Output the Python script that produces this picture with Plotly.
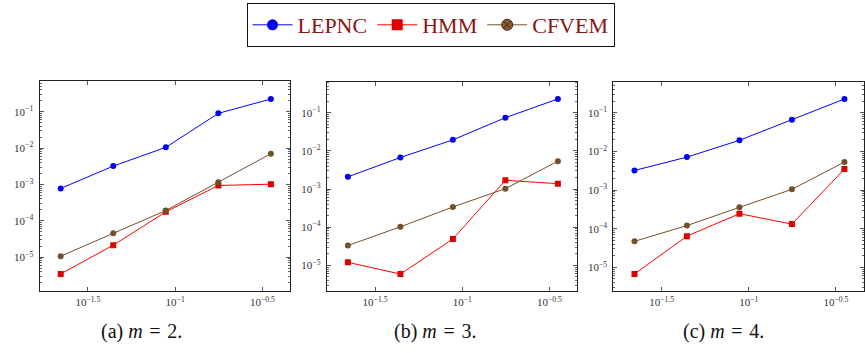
import plotly.graph_objects as go

# mesh sizes h (shared by all three cases)
h = [0.0221, 0.0442, 0.0884, 0.1768, 0.3536]

# errors for m = 2
lepnc_m2 = [7.8e-4, 3.2e-3, 1.05e-2, 9.0e-2, 0.223]
hmm_m2 = [3.5e-6, 2.15e-5, 1.77e-4, 9.4e-4, 1.02e-3]
cfvem_m2 = [1.07e-5, 4.6e-5, 1.93e-4, 1.16e-3, 7.0e-3]

# errors for m = 3
lepnc_m3 = [2.08e-3, 6.7e-3, 1.94e-2, 7.4e-2, 0.229]
hmm_m3 = [1.2e-5, 5.9e-6, 4.9e-5, 1.69e-3, 1.38e-3]
cfvem_m3 = [3.3e-5, 1.02e-4, 3.38e-4, 1.02e-3, 5.37e-3]

# errors for m = 4
lepnc_m4 = [3.2e-3, 7.1e-3, 1.93e-2, 6.57e-2, 0.226]
hmm_m4 = [6.7e-6, 6.4e-5, 2.44e-4, 1.31e-4, 3.48e-3]
cfvem_m4 = [4.7e-5, 1.2e-4, 3.56e-4, 1.04e-3, 5.28e-3]

methods = ["LEPNC", "HMM", "CFVEM"]
captions = ["(a) <i>m</i>\u2004=\u20042.", "(b) <i>m</i>\u2004=\u20043.",
            "(c) <i>m</i>\u2004=\u20044."]

x_tickvals = [10 ** -1.5, 10 ** -1, 10 ** -0.5]
x_ticktext = ["10<sup>−1.5</sup>", "10<sup>−1</sup>", "10<sup>−0.5</sup>"]
y_tickvals = [1e-5, 1e-4, 1e-3, 1e-2, 1e-1]
y_ticktext = ["10<sup>−5</sup>", "10<sup>−4</sup>", "10<sup>−3</sup>",
              "10<sup>−2</sup>", "10<sup>−1</sup>"]

W, H = 865, 353
BLUE = "#0000ff"
RED_LINE = "#ff0000"
RED_MARK = "#dd0000"
BROWN = "#73502a"
TEXT_RED = "#8b1414"
SERIF = "Liberation Serif, DejaVu Serif, serif"

panels = [
    dict(data=(lepnc_m2, hmm_m2, cfvem_m2), px=(39.5, 290.0), py=(81.0, 291.0),
         yr=(-5.926, -0.157), cap_x=141.5),
    dict(data=(lepnc_m3, hmm_m3, cfvem_m3), px=(326.7, 577.0), py=(81.7, 291.0),
         yr=(-5.673, -0.188), cap_x=435.0),
    dict(data=(lepnc_m4, hmm_m4, cfvem_m4), px=(613.3, 863.5), py=(81.7, 291.0),
         yr=(-5.613, -0.198), cap_x=723.0),
]

styles = [
    dict(line=dict(color=BLUE, width=1),
         marker=dict(symbol="circle", size=6, color=BLUE)),
    dict(line=dict(color=RED_LINE, width=1),
         marker=dict(symbol="square", size=6, color=RED_MARK)),
    dict(line=dict(color=BROWN, width=1),
         marker=dict(symbol="circle", size=6, color=BROWN)),
]

fig = go.Figure()
layout = dict(
    width=W, height=H, margin=dict(l=0, r=0, t=0, b=0),
    paper_bgcolor="white", plot_bgcolor="white",
    font=dict(family=SERIF, size=11, color="#333333"),
    showlegend=True,
)
annotations = []

for i, p in enumerate(panels):
    n = "" if i == 0 else str(i + 1)
    xa, ya = "x" + n, "y" + n
    for vals, st in zip(p["data"], styles):
        fig.add_trace(go.Scatter(
            x=h, y=vals, mode="lines+markers", xaxis=xa, yaxis=ya,
            showlegend=False, line=st["line"], marker=st["marker"]))
    axis_common = dict(
        type="log", showgrid=False, zeroline=False, showline=True,
        linecolor="#222222", linewidth=1, mirror="ticks",
        ticks="inside", ticklen=4, tickcolor="#555555", tickwidth=1,
        tickfont=dict(family=SERIF, size=11, color="#333333"),
    )
    layout["xaxis" + n] = dict(
        axis_common, domain=[p["px"][0] / W, p["px"][1] / W],
        range=[-1.777, -0.342], anchor=ya, ticklabelstandoff=1,
        tickmode="array", tickvals=x_tickvals, ticktext=x_ticktext,
    )
    layout["yaxis" + n] = dict(
        axis_common, domain=[1 - p["py"][1] / H, 1 - p["py"][0] / H],
        range=list(p["yr"]), anchor=xa, ticklabelstandoff=3,
        tickmode="array", tickvals=y_tickvals, ticktext=y_ticktext,
        minor=dict(ticks="inside", ticklen=2, tickcolor="#666666",
                   dtick="D1", showgrid=False),
    )
    annotations.append(dict(
        x=p["cap_x"] / W, y=1 - 331 / H, xref="paper", yref="paper",
        text=captions[i], showarrow=False,
        font=dict(family=SERIF, size=20, color="#111111"),
        xanchor="center", yanchor="middle"))

# legend entries
legend_markers = [
    dict(symbol="circle", size=11, color=BLUE),
    dict(symbol="square", size=11, color=RED_MARK),
    dict(symbol="circle-x", size=11, color="#8a5a30",
         line=dict(color="#4a3018", width=1)),
]
for name, st, mk in zip(methods, styles, legend_markers):
    fig.add_trace(go.Scatter(
        x=[None], y=[None], mode="lines+markers", name=name,
        line=st["line"], marker=mk, xaxis="x", yaxis="y"))

layout["legend"] = dict(
    orientation="h", x=430.5 / W, xanchor="center", y=1 - 3 / H, yanchor="top",
    bordercolor="#111111", borderwidth=1, bgcolor="white",
    font=dict(family=SERIF, size=22, color=TEXT_RED),
    itemwidth=40, tracegroupgap=0,
)
layout["annotations"] = annotations
fig.update_layout(**layout)
fig.write_html("out.html")
